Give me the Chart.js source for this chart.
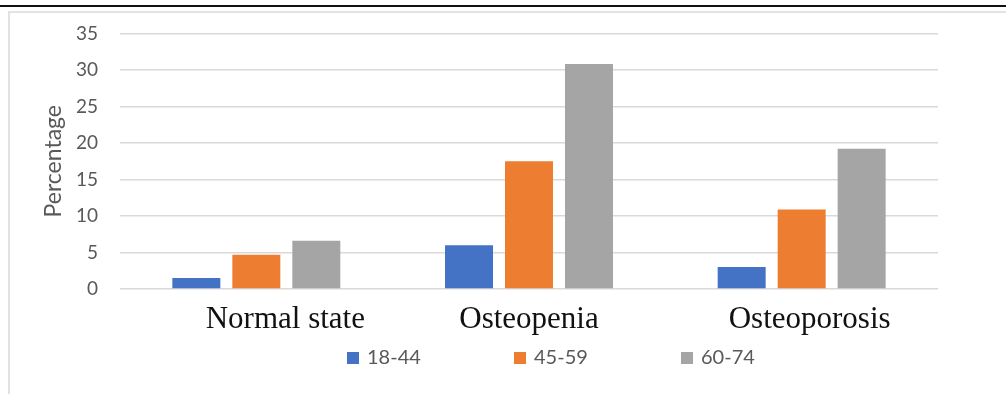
<!DOCTYPE html>
<html>
<head>
<meta charset="utf-8">
<script src="https://cdn.jsdelivr.net/npm/chart.js@4"></script>
<style>
  html, body { margin: 0; padding: 0; background: #fff; overflow: hidden; }
  #wrap { position: relative; width: 1006px; height: 394px; overflow: hidden; }
  #rule { position: absolute; left: 0; top: 5px; width: 1006px; height: 2px; background: #111; }
  #frame { position: absolute; left: 8px; top: 11px; width: 1100px; height: 500px;
           border-left: 2px solid #e2e2e2; border-top: 2px solid #e2e2e2; }
  canvas { position: absolute; left: 0; top: 0; }
</style>
</head>
<body>
<div id="wrap">
  <div id="rule"></div>
  <div id="frame"></div>
  <canvas id="c" width="1006" height="394"></canvas>
</div>
<script>
// Bone status by age group (percent)
const categories = ['Normal state', 'Osteopenia', 'Osteoporosis'];
const ageGroups = ['18-44', '45-59', '60-74'];
const pct18to44 = [1.5, 6.0, 3.0];
const pct45to59 = [4.7, 17.5, 10.9];
const pct60to74 = [6.6, 30.8, 19.2];
const yTicks = [0, 5, 10, 15, 20, 25, 30, 35];

const seriesColors = ['#4472C4', '#ED7D31', '#A5A5A5'];
const textGray = '#595959';

// Category names under each group, set in a serif face
const categoryLabels = {
  id: 'categoryLabels',
  afterDraw(chart) {
    const { ctx, scales: { x } } = chart;
    const shift = [29, 0, 8];
    ctx.save();
    ctx.font = '31px "Liberation Serif", "Times New Roman", serif';
    ctx.fillStyle = '#111';
    ctx.textAlign = 'center';
    ctx.textBaseline = 'alphabetic';
    chart.data.labels.forEach((lab, i) => {
      ctx.fillText(lab, x.getPixelForValue(i) + shift[i], 328);
    });
    ctx.restore();
  }
};

// Legend row with square swatches
const swatchLegend = {
  id: 'swatchLegend',
  afterDraw(chart) {
    const { ctx } = chart;
    ctx.save();
    ctx.font = '20px Lato, sans-serif';
    ctx.textAlign = 'left';
    ctx.textBaseline = 'middle';
    chart.data.datasets.forEach((ds, i) => {
      const x0 = 347 + i * 167;
      ctx.fillStyle = ds.backgroundColor;
      ctx.fillRect(x0, 352, 12, 12);
      ctx.fillStyle = textGray;
      ctx.fillText(ds.label, x0 + 20, 358);
    });
    ctx.restore();
  }
};

new Chart(document.getElementById('c'), {
  type: 'bar',
  data: {
    labels: categories,
    datasets: [
      { label: ageGroups[0], data: pct18to44, backgroundColor: seriesColors[0] },
      { label: ageGroups[1], data: pct45to59, backgroundColor: seriesColors[1] },
      { label: ageGroups[2], data: pct60to74, backgroundColor: seriesColors[2] }
    ]
  },
  options: {
    responsive: false,
    animation: false,
    categoryPercentage: 0.66,
    barPercentage: 0.8,
    layout: { padding: { left: 40, right: 68, top: 33, bottom: 105 } },
    plugins: { legend: { display: false }, tooltip: { enabled: false } },
    scales: {
      x: { display: false },
      y: {
        min: 0,
        max: 35,
        afterFit(scale) { scale.width = 80; },
        afterBuildTicks(scale) { scale.ticks = yTicks.map(v => ({ value: v })); },
        border: { display: false },
        grid: { color: '#d9d9d9', lineWidth: 1.5, drawTicks: false },
        ticks: { padding: 22, color: textGray, font: { family: 'Lato', size: 19 } },
        title: {
          display: true,
          text: 'Percentage',
          color: textGray,
          font: { family: 'Lato', size: 23 },
          padding: 0
        }
      }
    }
  },
  plugins: [categoryLabels, swatchLegend]
});
</script>
</body>
</html>
